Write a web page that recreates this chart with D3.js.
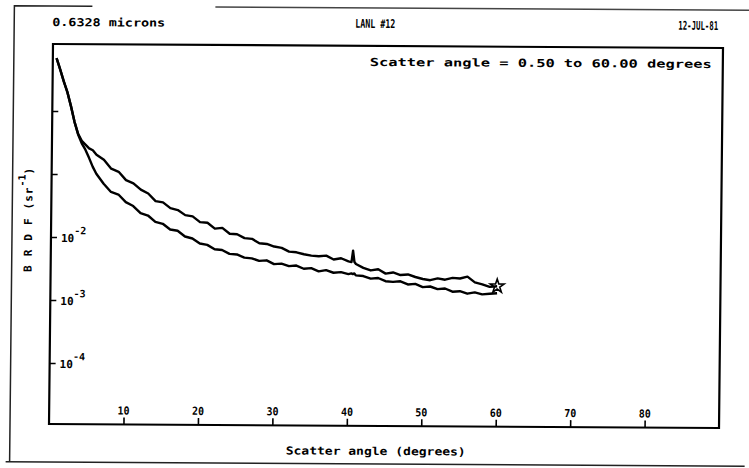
<!DOCTYPE html>
<html>
<head>
<meta charset="utf-8">
<script src="https://cdn.jsdelivr.net/npm/d3@7"></script>
<style>
  html, body { margin: 0; padding: 0; background: #fff; }
  svg { display: block; }
  .lbl { font-family: "DejaVu Sans Mono", monospace; font-weight: bold; fill: #000; }
</style>
</head>
<body>
<svg id="chart" width="749" height="468"></svg>
<script>
// Scatter angles (degrees) at which both BRDF runs were sampled
const angles = [
  0.5, 1, 1.5, 2, 2.5, 3, 3.5, 4, 4.5, 5, 5.5, 6,
  7, 8, 9, 10, 11, 12, 13, 14, 15, 16, 17, 18, 19, 20,
  21, 22, 23, 24, 25, 26, 27, 28, 29, 30, 31, 32, 33, 34, 35, 36, 37, 38, 39, 40,
  40.4, 40.6, 40.8,
  41, 42, 43, 44, 45, 46, 47, 48, 49, 50, 51, 52, 53, 54, 55, 56, 57, 58, 59, 60
];

// BRDF (sr^-1), upper trace
const brdfUpper = [
  6.92, 4.57, 2.95, 2.00, 1.20, 0.676, 0.437, 0.339, 0.295, 0.257, 0.240, 0.204,
  0.170, 0.123, 0.110, 0.0813, 0.0724, 0.0575, 0.0501, 0.0380, 0.0363, 0.0295, 0.0275, 0.0229, 0.0219, 0.0178,
  0.0174, 0.0141, 0.0145, 0.0117, 0.0115, 0.0100, 0.00977, 0.00832, 0.00813, 0.00741, 0.00708, 0.00617, 0.00603, 0.00562, 0.00537, 0.00525, 0.00537, 0.00468, 0.00490, 0.00437,
  0.00427, 0.00646, 0.00427,
  0.00398, 0.00347, 0.00316, 0.00331, 0.00282, 0.00295, 0.00269, 0.00275, 0.00251, 0.00234, 0.00224, 0.00240, 0.00229, 0.00245, 0.00240, 0.00257, 0.00209, 0.00195, 0.00178, 0.00182
];

// BRDF (sr^-1), lower trace
const brdfLower = [
  6.92, 4.57, 2.95, 2.00, 1.20, 0.676, 0.427, 0.309, 0.245, 0.182, 0.132, 0.102,
  0.0708, 0.0525, 0.0479, 0.0363, 0.0316, 0.0245, 0.0224, 0.0178, 0.0166, 0.0135, 0.0129, 0.0105, 0.00977, 0.00813,
  0.00776, 0.00661, 0.00646, 0.00562, 0.00550, 0.00490, 0.00479, 0.00437, 0.00447, 0.00389, 0.00398, 0.00363, 0.00372, 0.00331, 0.00339, 0.00302, 0.00316, 0.00288, 0.00295, 0.00275,
  0.00282, 0.00275, 0.00282,
  0.00263, 0.00257, 0.00234, 0.00240, 0.00214, 0.00209, 0.00214, 0.00191, 0.00195, 0.00174, 0.00178, 0.00162, 0.00166, 0.00148, 0.00151, 0.00138, 0.00145, 0.00135, 0.00138, 0.00141
];

// Axis ticks
const xTicks = [10, 20, 30, 40, 50, 60, 70, 80];
const yTicks = [1, 0.1, 0.01, 0.001, 0.0001];
const yTickLabels = ["", "", "-2", "-3", "-4"];

// Header and axis text
const headerLeft = "0.6328 microns";
const headerMid = "LANL #12";
const headerRight = "12-JUL-81";
const rangeNote = "Scatter  angle =  0.50 to 60.00 degrees";
const xTitle = "Scatter angle (degrees)";

const svg = d3.select("#chart");
// plotter sheet sits slightly askew
const g = svg.append("g").attr("transform", "matrix(1,0.006,-0.0105,1,0.46,-0.32)");

const box = { left: 53, top: 44, right: 723, bottom: 424 };

const x = d3.scaleLinear().domain([0, 90]).range([53, 723]);
const y = d3.scaleLog().domain([1e-5, 10]).range([426, 48]);

// outer sheet border
g.append("path")
  .attr("d", "M14,462 L14,6 L92,6")
  .attr("fill", "none").attr("stroke", "#222").attr("stroke-width", 1.5);
g.append("path")
  .attr("d", "M215,6 L749,6")
  .attr("fill", "none").attr("stroke", "#444").attr("stroke-width", 1.5);
g.append("path")
  .attr("d", "M10,462 L749,462")
  .attr("fill", "none").attr("stroke", "#222").attr("stroke-width", 1.5);

// plot frame
g.append("rect")
  .attr("x", box.left).attr("y", box.top)
  .attr("width", box.right - box.left).attr("height", box.bottom - box.top)
  .attr("fill", "none").attr("stroke", "#000").attr("stroke-width", 2.2);

// header line
function label(txt, xPos, yPos, len, size) {
  return g.append("text").attr("class", "lbl").attr("x", xPos).attr("y", yPos)
    .attr("font-size", size || 11).attr("textLength", len).attr("lengthAdjust", "spacingAndGlyphs")
    .text(txt);
}
label(headerLeft, 52, 26, 113);
label(headerMid, 355, 26, 40, 12);
label(headerRight, 678, 26, 40, 12);
label(rangeNote, 370, 64, 342);

// x axis: ticks point up from the bottom edge, labels inside the frame
const xAxis = d3.axisTop(x).tickValues(xTicks).tickSize(7).tickFormat("");
const xg = g.append("g").attr("transform", `translate(0,${box.bottom})`).call(xAxis);
xg.select(".domain").remove();
xg.selectAll(".tick line").attr("stroke", "#000").attr("stroke-width", 1.6);
g.selectAll(".xlab").data(xTicks).join("text")
  .attr("class", "lbl xlab")
  .attr("x", d => x(d)).attr("y", 414)
  .attr("text-anchor", "middle").attr("font-size", 11)
  .attr("textLength", 12).attr("lengthAdjust", "spacingAndGlyphs")
  .text(d => d);

// y axis: ticks point right from the left edge
const yAxis = d3.axisRight(y).tickValues(yTicks).tickSize(6).tickFormat("");
const yg = g.append("g").attr("transform", `translate(${box.left},0)`).call(yAxis);
yg.select(".domain").remove();
yg.selectAll(".tick line").attr("stroke", "#000").attr("stroke-width", 1.6);
yTicks.forEach((v, i) => {
  if (!yTickLabels[i]) return;
  const t = g.append("text").attr("class", "lbl").attr("font-size", 11)
    .attr("x", 63).attr("y", y(v) + 5);
  t.append("tspan").text("10");
  t.append("tspan").attr("font-size", 10).attr("dy", -8).text(yTickLabels[i]);
});

// axis titles
label(xTitle, 290, 453, 180);

const yt = g.append("text").attr("class", "lbl")
  .attr("transform", "translate(34,272) rotate(-90)")
  .attr("font-size", 11);
yt.append("tspan").attr("letter-spacing", 9).text("BRDF");
yt.append("tspan").attr("letter-spacing", 1).text("(sr");
yt.append("tspan").attr("font-size", 10).attr("dy", -7).text("-1");
yt.append("tspan").attr("dy", 7).text(")");

// BRDF traces
const line = d3.line().x(d => x(d[0])).y(d => y(d[1]));
[brdfUpper, brdfLower].forEach(vals => {
  g.append("path")
    .datum(angles.map((a, i) => [a, vals[i]]))
    .attr("d", line)
    .attr("fill", "none").attr("stroke", "#000")
    .attr("stroke-width", 2.4).attr("stroke-linejoin", "round");
});

// end-of-run marker
const last = angles.length - 1;
g.append("path")
  .attr("d", d3.symbol(d3.symbolStar, 60)())
  .attr("transform", `translate(${x(angles[last])},${y(brdfUpper[last])})`)
  .attr("fill", "none").attr("stroke", "#000").attr("stroke-width", 1.6);
</script>
</body>
</html>
